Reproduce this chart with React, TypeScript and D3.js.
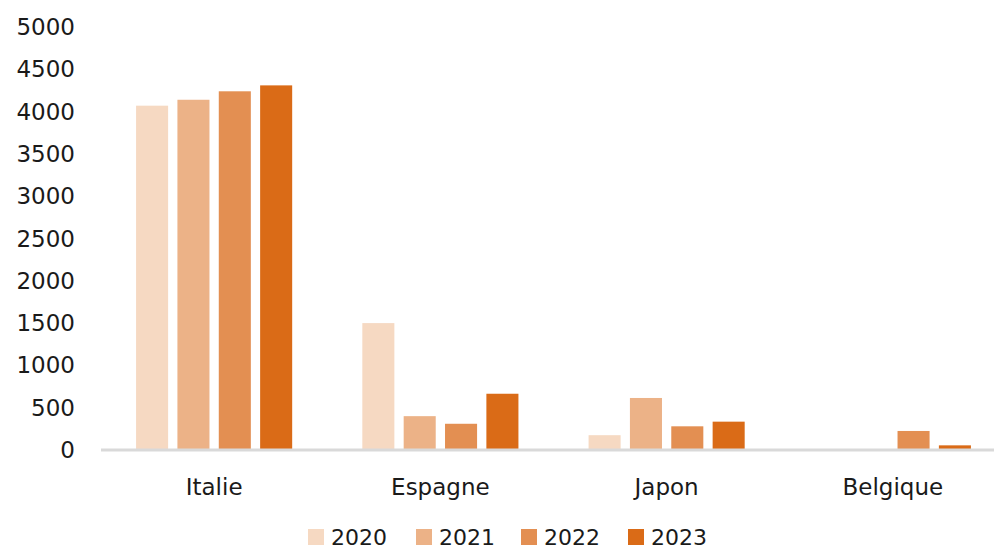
import { useEffect, useRef } from "react"
import * as d3 from "d3"

// Values
const countries = ["Italie", "Espagne", "Japon", "Belgique"]
const years = ["2020", "2021", "2022", "2023"]
const values2020 = [4070, 1500, 175, 0]
const values2021 = [4140, 400, 615, 0]
const values2022 = [4240, 310, 280, 225]
const values2023 = [4310, 665, 335, 55]
const yTicks = [0, 500, 1000, 1500, 2000, 2500, 3000, 3500, 4000, 4500, 5000]
const colors = ["#F6D9C2", "#ECB287", "#E38F52", "#DA6B17"]

const seriesValues = [values2020, values2021, values2022, values2023]

export default function App() {
  const svgRef = useRef<SVGSVGElement>(null)

  useEffect(() => {
    if (!svgRef.current) return
    const svg = d3.select(svgRef.current)
    svg.selectAll("*").remove()

    const width = 994
    const height = 549
    const font = "DejaVu Sans, sans-serif"

    const x0 = d3.scaleBand().domain(countries).range([101, 1006]).paddingInner(0.31).paddingOuter(0.155)
    const x1 = d3.scaleBand().domain(years).range([0, x0.bandwidth()]).paddingInner(0.225).paddingOuter(0)
    const y = d3.scaleLinear().domain([0, 5000]).range([450, 27])

    // y tick labels
    svg.append("g")
      .selectAll("text")
      .data(yTicks)
      .join("text")
      .attr("x", 75)
      .attr("y", (d) => y(d))
      .attr("dy", "0.35em")
      .attr("text-anchor", "end")
      .attr("font-family", font)
      .attr("font-size", 23)
      .attr("fill", "#1a1a1a")
      .text((d) => d)

    // bars
    const groups = svg.append("g")
      .selectAll("g")
      .data(countries)
      .join("g")
      .attr("transform", (d) => `translate(${x0(d)},0)`)

    groups.selectAll("rect")
      .data((_, i) => years.map((yr, j) => ({ yr, j, v: seriesValues[j][i] })))
      .join("rect")
      .attr("x", (d) => x1(d.yr)!)
      .attr("width", x1.bandwidth())
      .attr("y", (d) => y(d.v))
      .attr("height", (d) => y(0) - y(d.v))
      .attr("fill", (d) => colors[d.j])

    // baseline
    svg.append("line")
      .attr("x1", 101)
      .attr("x2", width)
      .attr("y1", y(0))
      .attr("y2", y(0))
      .attr("stroke", "#D9D9D9")
      .attr("stroke-width", 3)

    // category labels
    svg.append("g")
      .selectAll("text")
      .data(countries)
      .join("text")
      .attr("x", (d) => x0(d)! + x0.bandwidth() / 2)
      .attr("y", 487)
      .attr("dy", "0.35em")
      .attr("text-anchor", "middle")
      .attr("font-family", font)
      .attr("font-size", 23)
      .attr("fill", "#1a1a1a")
      .text((d) => d)

    // legend
    const legendX = [308, 416, 521, 628]
    const legend = svg.append("g")
      .selectAll("g")
      .data(years)
      .join("g")
      .attr("transform", (_, i) => `translate(${legendX[i]},537)`)
    legend.append("rect")
      .attr("x", 0)
      .attr("y", -8)
      .attr("width", 16)
      .attr("height", 16)
      .attr("fill", (_, i) => colors[i])
    legend.append("text")
      .attr("x", 23)
      .attr("y", 0)
      .attr("dy", "0.35em")
      .attr("font-family", font)
      .attr("font-size", 22)
      .attr("fill", "#1a1a1a")
      .text((d) => d)

    svg.attr("width", width).attr("height", height)
  }, [])

  return (
    <div style={{ position: "absolute", left: 0, top: 0, width: 994, height: 549, background: "#fff" }}>
      <svg ref={svgRef} width={994} height={549} style={{ display: "block" }} />
    </div>
  )
}
